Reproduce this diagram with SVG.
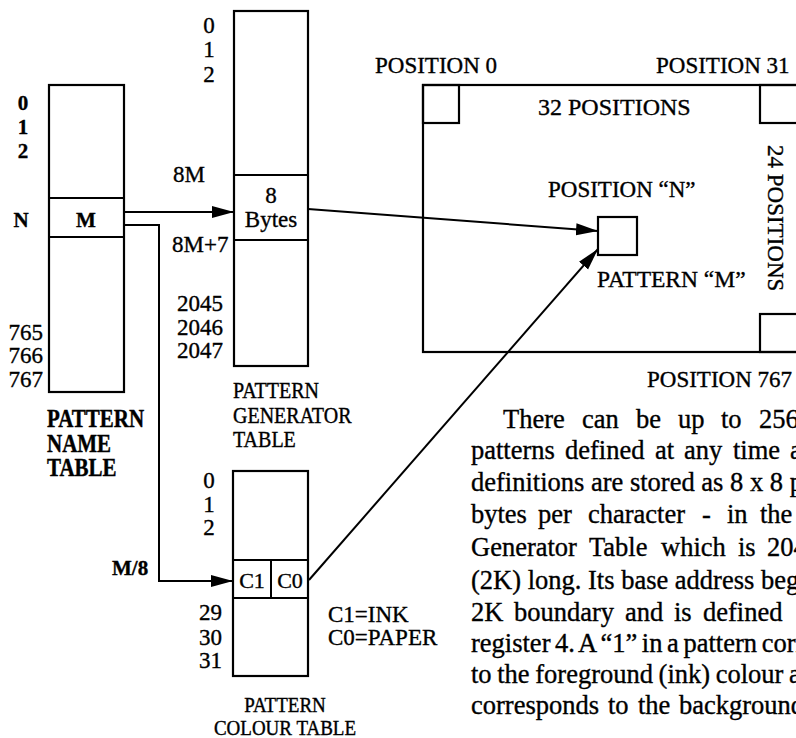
<svg xmlns="http://www.w3.org/2000/svg" width="796" height="738" viewBox="0 0 796 738">
<style>
text{font-family:"Liberation Serif","Times New Roman",serif;fill:#000;stroke:#000;stroke-width:0.35}
.b{font-weight:bold;font-size:21px}
.r{font-size:23px}
.s{font-size:20px}
.p{font-size:26.5px}
.box{fill:none;stroke:#000;stroke-width:2.2}
.ln{stroke:#000;stroke-width:2;fill:none}
.mid{text-anchor:middle}
.end{text-anchor:end}
</style>
<defs>
<marker id="ah" markerUnits="userSpaceOnUse" markerWidth="24" markerHeight="14" refX="22" refY="7" orient="auto"><path d="M0,1 L22,7 L0,13 z" fill="#000"/></marker>
</defs>
<rect width="796" height="738" fill="#fff"/>

<g id="name-table">
<rect class="box" x="49" y="85" width="75" height="307"/>
<line class="ln" x1="49" y1="198" x2="124" y2="198"/>
<line class="ln" x1="49" y1="237" x2="124" y2="237"/>
<text class="b mid" x="23" y="110">0</text>
<text class="b mid" x="23" y="134">1</text>
<text class="b mid" x="23" y="158">2</text>
<text class="b mid" x="21" y="227">N</text>
<text class="b mid" x="86" y="227">M</text>
<text class="r end" x="43" y="340">765</text>
<text class="r end" x="43" y="363">766</text>
<text class="r end" x="43" y="387">767</text>
<text class="b" transform="translate(47,427) scale(1,1.15)">PATTERN</text>
<text class="b" transform="translate(47,452) scale(1,1.15)">NAME</text>
<text class="b" transform="translate(47,476) scale(1,1.15)">TABLE</text>
</g>

<g id="generator-table">
<rect class="box" x="234" y="11" width="74" height="355"/>
<line class="ln" x1="234" y1="175" x2="308" y2="175"/>
<line class="ln" x1="234" y1="240" x2="308" y2="240"/>
<text class="r mid" x="209" y="33">0</text>
<text class="r mid" x="209" y="57">1</text>
<text class="r mid" x="209" y="82">2</text>
<text class="r" x="173" y="182">8M</text>
<text class="r mid" x="271" y="203">8</text>
<text class="r mid" x="271" y="227">Bytes</text>
<text class="r" x="172" y="252">8M+7</text>
<text class="r end" x="223" y="311">2045</text>
<text class="r end" x="223" y="335">2046</text>
<text class="r end" x="223" y="358">2047</text>
<text class="s" transform="translate(233,398) scale(1,1.15)">PATTERN</text>
<text class="s" transform="translate(233,423) scale(1,1.15)">GENERATOR</text>
<text class="s" transform="translate(233,447) scale(1,1.15)">TABLE</text>
</g>

<g id="colour-table">
<rect class="box" x="233" y="471" width="75" height="205"/>
<line class="ln" x1="233" y1="560" x2="308" y2="560"/>
<line class="ln" x1="233" y1="598" x2="308" y2="598"/>
<line class="ln" x1="271" y1="560" x2="271" y2="598"/>
<text class="r mid" x="209" y="488">0</text>
<text class="r mid" x="209" y="512">1</text>
<text class="r mid" x="209" y="535">2</text>
<text class="r mid" x="252" y="588" style="font-size:22px">C1</text>
<text class="r mid" x="290" y="588" style="font-size:22px">C0</text>
<text class="r end" x="222" y="620">29</text>
<text class="r end" x="222" y="645">30</text>
<text class="r end" x="222" y="668">31</text>
<text class="r" x="328" y="622">C1=INK</text>
<text class="r" x="328" y="645">C0=PAPER</text>
<text class="s mid" style="font-size:19px" transform="translate(285,712) scale(1,1.15)">PATTERN</text>
<text class="s mid" style="font-size:19px" transform="translate(285,735) scale(1,1.15)">COLOUR TABLE</text>
<text class="b" x="112" y="575">M/8</text>
</g>

<g id="screen">
<rect class="box" x="423" y="85" width="420" height="267"/>
<rect class="box" x="423" y="85" width="36" height="38"/>
<rect class="box" x="760" y="85" width="60" height="38"/>
<rect class="box" x="760" y="314" width="60" height="38"/>
<text class="r" x="375" y="73">POSITION 0</text>
<text class="r" x="656" y="73">POSITION 31</text>
<text class="r" x="538" y="115" style="font-size:24px">32 POSITIONS</text>
<text class="r" transform="translate(768,145) rotate(90)">24 POSITIONS</text>
<text class="r" x="647" y="387">POSITION 767</text>
</g>

<g id="position-n">
<rect class="box" x="598" y="217" width="39" height="38"/>
<text class="r" x="548" y="197">POSITION “N”</text>
<text class="r" x="597" y="287" style="font-size:23.5px">PATTERN “M”</text>
</g>

<g id="connectors">
<path class="ln" d="M124,212 H234" marker-end="url(#ah)"/>
<path class="ln" d="M124,225 H159 V581 H233" marker-end="url(#ah)"/>
<path class="ln" d="M308,209 L598,231" marker-end="url(#ah)"/>
<path class="ln" d="M309,580 L598,249" marker-end="url(#ah)"/>
</g>

<g id="paragraph">
<text class="p" y="428"><tspan x="503">There</tspan><tspan x="582">can</tspan><tspan x="636">be</tspan><tspan x="678">up</tspan><tspan x="721">to</tspan><tspan x="759">256</tspan></text>
<text class="p" y="459"><tspan x="471">patterns</tspan><tspan x="565">defined</tspan><tspan x="655">at</tspan><tspan x="684">any</tspan><tspan x="733">time</tspan><tspan x="790">and</tspan></text>
<text class="p" x="471" y="491">definitions are stored as 8 x 8 pixels</text>
<text class="p" y="523"><tspan x="471">bytes</tspan><tspan x="538">per</tspan><tspan x="588">character</tspan><tspan x="702">-</tspan><tspan x="727">in</tspan><tspan x="760">the</tspan></text>
<text class="p" y="556"><tspan x="471">Generator</tspan><tspan x="589">Table</tspan><tspan x="661">which</tspan><tspan x="738">is</tspan><tspan x="767">2048</tspan></text>
<text class="p" x="471" y="589">(2K) long. Its base address begins</text>
<text class="p" y="621"><tspan x="471">2K</tspan><tspan x="514">boundary</tspan><tspan x="625">and</tspan><tspan x="674">is</tspan><tspan x="703">defined</tspan></text>
<text class="p" x="471" y="652" word-spacing="-2">register 4. A “1” in a pattern corresponds</text>
<text class="p" x="471" y="683" word-spacing="-1">to the foreground (ink) colour and</text>
<text class="p" y="714"><tspan x="471">corresponds</tspan><tspan x="608">to</tspan><tspan x="638">the</tspan><tspan x="679">background</tspan></text>
</g>
</svg>
